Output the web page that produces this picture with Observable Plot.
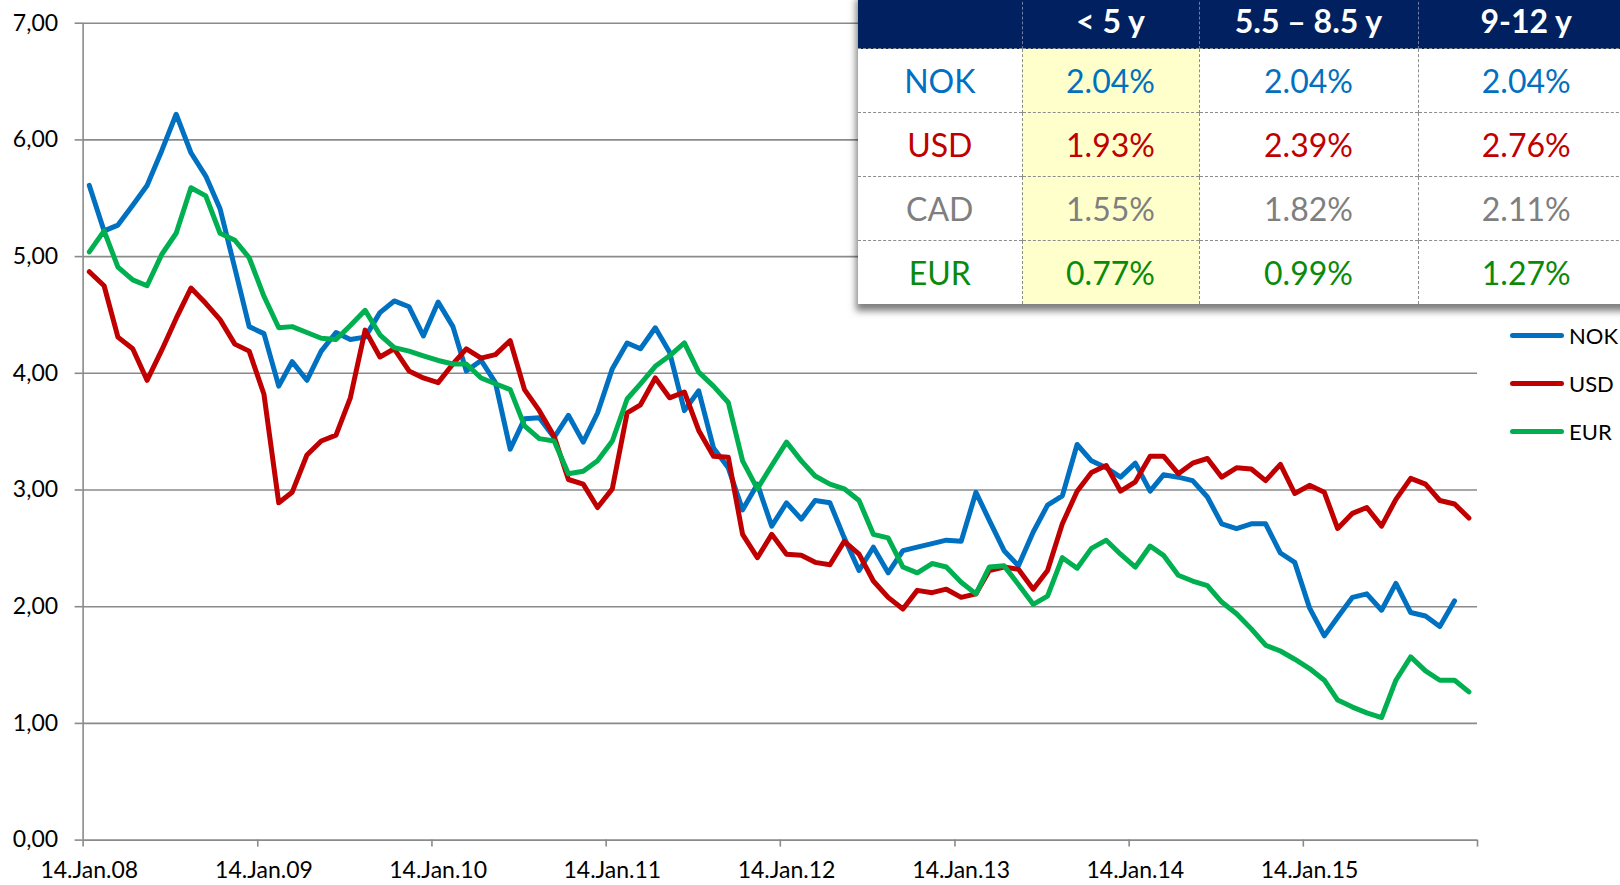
<!DOCTYPE html>
<html>
<head>
<meta charset="utf-8">
<script src="https://cdn.jsdelivr.net/npm/d3@7"></script>
<script src="https://cdn.jsdelivr.net/npm/@observablehq/plot@0.6"></script>
<style>
  html, body { margin: 0; padding: 0; background: #fff; overflow: hidden; }
  #wrap { position: relative; width: 1620px; height: 885px; font-family: Lato, "Open Sans", sans-serif; overflow: hidden; }
  #chart svg { display: block; overflow: visible; }
  #tbl { position: absolute; left: 858px; top: -8px; width: 776px; min-width: 776px; border-collapse: collapse; background: #fff;
         box-shadow: -2px 7px 7px rgba(0,0,0,0.5); table-layout: fixed; font-family: Lato, sans-serif; }
  #tbl th { background: #002060; color: #fff; font-weight: bold; font-size: 32px; height: 56px; padding: 0;
            text-align: center; vertical-align: middle; border-left: 1px dashed #6f7fa8; white-space: nowrap; }
  #tbl th:first-child { border-left: none; }
  #tbl td { font-size: 32px; height: 63px; padding: 0; text-align: center; vertical-align: middle;
            border-top: 1px dashed #8c8c8c; border-left: 1px dashed #8c8c8c; white-space: nowrap; }
  #tbl td:first-child { border-left: none; }
  #tbl td.hl { background: #FFFFCC; }
  #legend { position: absolute; left: 1510px; top: 311px; font-family: Lato, sans-serif; font-size: 22px; color: #000; }
  .lg { display: flex; align-items: center; height: 48px; }
  .lg .sw { width: 54px; height: 5px; border-radius: 3px; margin-right: 5px; }
</style>
</head>
<body>
<div id="wrap">
  <div id="chart"></div>
  <table id="tbl"></table>
  <div id="legend"></div>
</div>
<script>
// ---- chart data (monthly, starting 14 Jan 2008) ----
const seriesNames = ["NOK", "USD", "EUR"];
const seriesColors = ["#0070C0", "#C00000", "#00B050"];

const nok = [
  5.61, 5.22, 5.27, 5.44, 5.61, 5.91, 6.22, 5.89, 5.69, 5.41,
  4.90, 4.40, 4.34, 3.89, 4.10, 3.94, 4.19, 4.35, 4.29, 4.31,
  4.52, 4.62, 4.57, 4.32, 4.61, 4.40, 4.02, 4.11, 3.92, 3.35,
  3.61, 3.62, 3.45, 3.64, 3.41, 3.66, 4.04, 4.26, 4.21, 4.39,
  4.18, 3.68, 3.85, 3.36, 3.19, 2.83, 3.05, 2.69, 2.89, 2.75,
  2.91, 2.89, 2.59, 2.31, 2.51, 2.29, 2.48, 2.51, 2.54, 2.57,
  2.56, 2.98, 2.74, 2.48, 2.35, 2.64, 2.87, 2.95, 3.39, 3.25,
  3.19, 3.11, 3.23, 2.99, 3.13, 3.11, 3.08, 2.94, 2.71, 2.67,
  2.71, 2.71, 2.46, 2.38, 1.99, 1.75, 1.91, 2.08, 2.11, 1.97,
  2.20, 1.95, 1.92, 1.83, 2.05
];
const usd = [
  4.87, 4.75, 4.31, 4.21, 3.94, 4.20, 4.47, 4.73, 4.60, 4.46,
  4.25, 4.19, 3.82, 2.89, 2.98, 3.30, 3.42, 3.47, 3.79, 4.37,
  4.14, 4.21, 4.02, 3.96, 3.92, 4.08, 4.21, 4.13, 4.16, 4.28,
  3.86, 3.68, 3.46, 3.09, 3.05, 2.85, 3.01, 3.66, 3.73, 3.96,
  3.79, 3.84, 3.51, 3.29, 3.28, 2.62, 2.42, 2.62, 2.45, 2.44,
  2.38, 2.36, 2.56, 2.45, 2.22, 2.08, 1.98, 2.14, 2.12, 2.15,
  2.08, 2.11, 2.31, 2.34, 2.32, 2.15, 2.31, 2.71, 2.99, 3.15,
  3.21, 2.99, 3.07, 3.29, 3.29, 3.14, 3.23, 3.27, 3.11, 3.19,
  3.18, 3.08, 3.22, 2.97, 3.04, 2.98, 2.67, 2.80, 2.85, 2.69,
  2.92, 3.10, 3.05, 2.91, 2.88, 2.76
];
const eur = [
  5.04, 5.22, 4.91, 4.80, 4.75, 5.02, 5.20, 5.59, 5.52, 5.20,
  5.14, 4.99, 4.66, 4.39, 4.40, 4.35, 4.30, 4.29, 4.41, 4.54,
  4.33, 4.22, 4.19, 4.15, 4.11, 4.08, 4.08, 3.96, 3.91, 3.86,
  3.55, 3.44, 3.42, 3.14, 3.16, 3.25, 3.42, 3.78, 3.91, 4.06,
  4.15, 4.26, 4.01, 3.89, 3.75, 3.25, 3.01, 3.21, 3.41, 3.25,
  3.12, 3.05, 3.01, 2.91, 2.62, 2.59, 2.34, 2.29, 2.37, 2.34,
  2.21, 2.11, 2.34, 2.35, 2.19, 2.02, 2.09, 2.42, 2.33, 2.50,
  2.57, 2.45, 2.34, 2.52, 2.44, 2.27, 2.22, 2.18, 2.04, 1.94,
  1.81, 1.67, 1.62, 1.55, 1.47, 1.37, 1.20, 1.14, 1.09, 1.05,
  1.37, 1.57, 1.45, 1.37, 1.37, 1.27
];

const yTicks = [0, 1, 2, 3, 4, 5, 6, 7];
const yearStarts = [2008, 2009, 2010, 2011, 2012, 2013, 2014, 2015, 2016];
const labelYears = [2008, 2009, 2010, 2011, 2012, 2013, 2014, 2015];

// ---- table data ----
const tableCols = ["< 5 y", "5.5 \u2013 8.5 y", "9-12 y"];
const tableRows = ["NOK", "USD", "CAD", "EUR"];
const tableColors = ["#0070C0", "#C00000", "#7F7F7F", "#0A8A0A"];
const tableNOK = [2.04, 2.04, 2.04];
const tableUSD = [1.93, 2.39, 2.76];
const tableCAD = [1.55, 1.82, 2.11];
const tableEUR = [0.77, 0.99, 1.27];

// ---- build ----
const start = new Date(Date.UTC(2008, 0, 14));
const allSeries = [nok, usd, eur];
const rows = allSeries.flatMap((vals, s) =>
  vals.map((v, i) => ({ name: seriesNames[s], date: d3.utcMonth.offset(start, i), value: v })));

const xStart = new Date(Date.UTC(2008, 0, 1));
const xEnd = new Date(Date.UTC(2016, 0, 1));
const tickDates = yearStarts.map(y => new Date(Date.UTC(y, 0, 1)));
const labelDates = labelYears.map(y => new Date(Date.UTC(y, 0, 14)));
const grey = "#8a8a8a";

const chart = Plot.plot({
  width: 1620,
  height: 885,
  marginLeft: 82.6,
  marginRight: 143,
  marginTop: 22.7,
  marginBottom: 45.4,
  style: { fontFamily: "Lato, sans-serif", background: "transparent", color: "#000" },
  x: { type: "utc", domain: [xStart, xEnd] },
  y: { domain: [0, 7] },
  color: { domain: seriesNames, range: seriesColors },
  marks: [
    Plot.gridY(yTicks.slice(1), { stroke: grey, strokeOpacity: 1, strokeWidth: 1.6 }),
    Plot.ruleY([0], { stroke: grey, strokeWidth: 1.6 }),
    Plot.ruleX([xStart], { stroke: grey, strokeWidth: 1.6 }),
    Plot.axisY(yTicks, { tickSize: 8, tickPadding: 17, stroke: grey, strokeWidth: 1.6, fill: "#000",
      fontSize: 23, label: null, tickFormat: d => d.toFixed(2).replace(".", ",") }),
    Plot.axisX(tickDates, { tickSize: 7, stroke: grey, strokeWidth: 1.6, tickFormat: () => "", label: null }),
    Plot.axisX(labelDates, { tickSize: 0, tickPadding: 22, fill: "#000", fontSize: 23, label: null,
      tickFormat: d3.utcFormat("%d.%b.%y") }),
    Plot.line(rows, { x: "date", y: "value", z: "name", stroke: "name", strokeWidth: 5,
      strokeLinejoin: "round", strokeLinecap: "round" })
  ]
});
document.getElementById("chart").append(chart);

// table
const tbl = document.getElementById("tbl");
const colWidths = [164, 177, 219, 216];
const cg = document.createElement("colgroup");
colWidths.forEach(w => { const c = document.createElement("col"); c.style.width = w + "px"; cg.append(c); });
tbl.append(cg);
const thead = document.createElement("thead");
const hr = document.createElement("tr");
["", ...tableCols].forEach(t => { const th = document.createElement("th"); th.textContent = t; hr.append(th); });
thead.append(hr);
tbl.append(thead);
const tbody = document.createElement("tbody");
const tableVals = [tableNOK, tableUSD, tableCAD, tableEUR];
tableRows.forEach((r, ri) => {
  const tr = document.createElement("tr");
  const td0 = document.createElement("td");
  td0.textContent = r; td0.style.color = tableColors[ri];
  tr.append(td0);
  tableVals[ri].forEach((v, ci) => {
    const td = document.createElement("td");
    td.textContent = v.toFixed(2) + "%";
    td.style.color = tableColors[ri];
    if (ci === 0) td.className = "hl";
    tr.append(td);
  });
  tbody.append(tr);
});
tbl.append(tbody);

// legend
const lg = document.getElementById("legend");
seriesNames.forEach((n, i) => {
  const row = document.createElement("div");
  row.className = "lg";
  const sw = document.createElement("div");
  sw.className = "sw"; sw.style.background = seriesColors[i];
  const tx = document.createElement("span");
  tx.textContent = n;
  row.append(sw, tx);
  lg.append(row);
});
</script>
</body>
</html>
